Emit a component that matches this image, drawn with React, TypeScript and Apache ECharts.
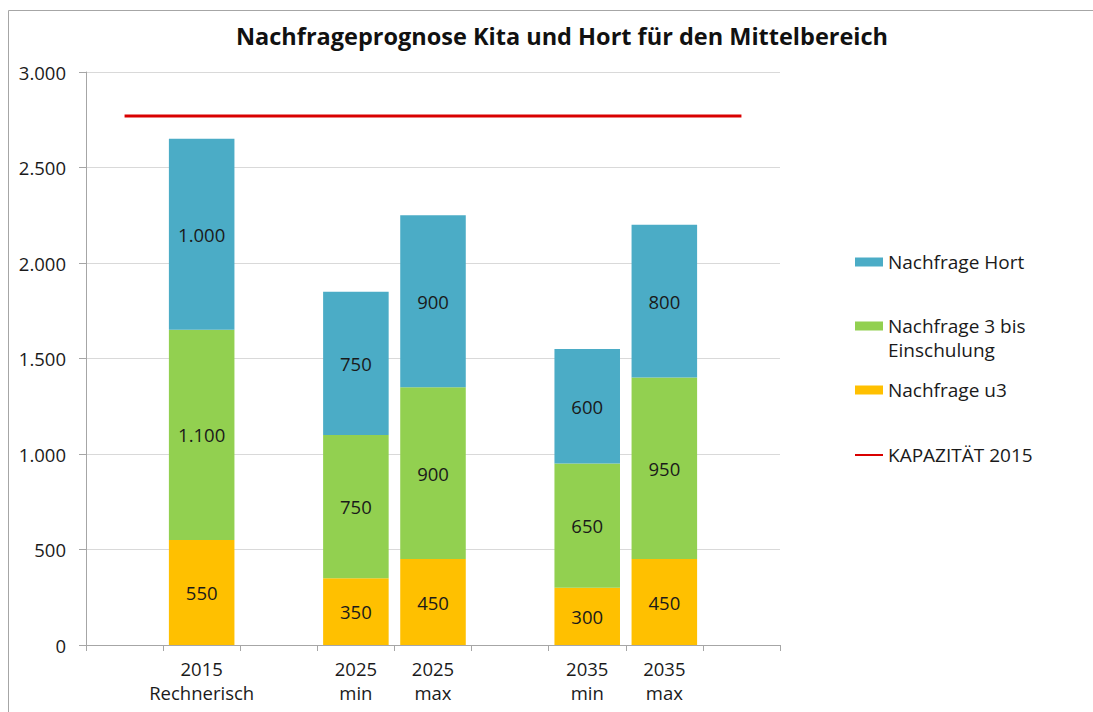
import React, { useEffect, useRef } from "react";
import * as echarts from "echarts";

const categories = ["", "2015\nRechnerisch", "", "2025\nmin", "2025\nmax", "", "2035\nmin", "2035\nmax", ""];
const u3 = [null, 550, null, 350, 450, null, 300, 450, null];
const dreiBis = [null, 1100, null, 750, 900, null, 650, 950, null];
const hort = [null, 1000, null, 750, 900, null, 600, 800, null];
const kapazitaet = [2770, 2770, 2770, 2770, 2770, 2770, 2770, 2770, 2770];
const yTicks = { min: 0, max: 3000, interval: 500 };

const FONT = "Open Sans";
const fmt = (v: number) => String(v).replace(/\B(?=(\d{3})+(?!\d))/g, ".");

export default function App() {
  const ref = useRef<HTMLDivElement>(null);
  useEffect(() => {
    if (!ref.current) return;
    const chart = echarts.init(ref.current, null, { renderer: "svg" });
    const label = {
      show: true,
      position: "inside" as const,
      fontSize: 18.5,
      fontFamily: FONT,
      color: "#1a1a1a",
      formatter: (p: any) => fmt(p.value),
    };
    const legendText = { fontSize: 19, fontFamily: FONT, color: "#1a1a1a", lineHeight: 24 };
    const legendBase = { left: 855, padding: 0, itemWidth: 28, itemHeight: 9, itemGap: 4 };
    chart.setOption({
      animation: false,
      textStyle: { fontFamily: FONT },
      title: {
        text: "Nachfrageprognose Kita und Hort für den Mittelbereich",
        left: 557,
        textAlign: "center",
        top: 19,
        textStyle: { fontSize: 23.5, fontWeight: "bold", color: "#111", fontFamily: FONT },
      },
      graphic: [
        {
          type: "rect",
          shape: { x: 8.5, y: 10.5, width: 1100, height: 720 },
          style: { fill: "none", stroke: "#A6A6A6", lineWidth: 1 },
          silent: true,
        },
      ],
      legend: [
        {
          ...legendBase, top: 250,
          icon: "rect", data: ["Nachfrage Hort"], textStyle: legendText,
        },
        {
          ...legendBase, top: 314, itemHeight: 33,
          data: [{ name: "Nachfrage 3 bis Einschulung", icon: "path://M0,0 L28,0 L28,9 L0,9 Z M0,33 L28,33 Z" }],
          formatter: () => "Nachfrage 3 bis\nEinschulung",
          textStyle: legendText,
        },
        {
          ...legendBase, top: 378,
          icon: "rect", data: ["Nachfrage u3"], textStyle: legendText,
        },
        {
          ...legendBase, top: 443,
          data: [{ name: "KAPAZITÄT 2015", icon: "path://M0,3.5 L28,3.5 L28,5.5 L0,5.5 Z" }],
          textStyle: legendText,
        },
      ],
      grid: { left: 86, right: 313, top: 72, bottom: 67 },
      xAxis: {
        type: "category",
        data: categories,
        boundaryGap: true,
        axisLine: { lineStyle: { color: "#A6A6A6", width: 1 } },
        axisTick: { show: true, length: 6, interval: 0, lineStyle: { color: "#A6A6A6" } },
        axisLabel: {
          interval: 0, fontSize: 18.5, fontFamily: FONT, color: "#1a1a1a",
          lineHeight: 24, margin: 11,
        },
      },
      yAxis: {
        type: "value",
        min: yTicks.min,
        max: yTicks.max,
        interval: yTicks.interval,
        axisLine: { show: true, lineStyle: { color: "#A6A6A6" } },
        axisTick: { show: true, length: 7, lineStyle: { color: "#A6A6A6" } },
        splitLine: { lineStyle: { color: "#D9D9D9" } },
        axisLabel: {
          fontSize: 18.5, fontFamily: FONT, color: "#1a1a1a", margin: 20,
          formatter: (v: number) => fmt(v),
        },
      },
      series: [
        {
          name: "Nachfrage u3", type: "bar", stack: "s", data: u3, barWidth: "85%",
          itemStyle: { color: "#FFC000" }, label,
        },
        {
          name: "Nachfrage 3 bis Einschulung", type: "bar", stack: "s", data: dreiBis, barWidth: "85%",
          itemStyle: { color: "#92D050" }, label,
        },
        {
          name: "Nachfrage Hort", type: "bar", stack: "s", data: hort, barWidth: "85%",
          itemStyle: { color: "#4BACC6" }, label,
        },
        {
          name: "KAPAZITÄT 2015", type: "line", data: kapazitaet, symbol: "none",
          lineStyle: { color: "#D90000", width: 3 }, itemStyle: { color: "#D90000" },
          z: 5,
        },
      ],
    });
    return () => chart.dispose();
  }, []);
  return (
    <div
      ref={ref}
      style={{ position: "fixed", left: 0, top: 0, width: 1093, height: 712, background: "#fff" }}
    />
  );
}
